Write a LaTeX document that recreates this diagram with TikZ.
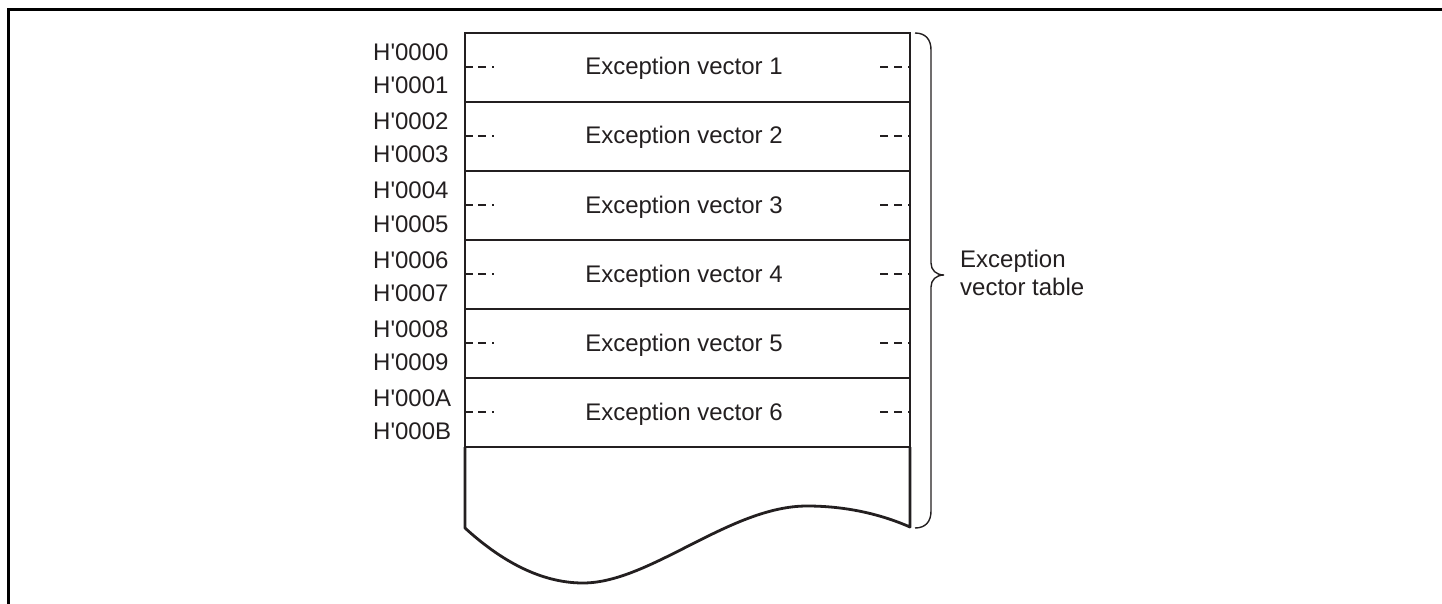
\documentclass[tikz,border=0pt]{standalone}
\usepackage{fontspec}
\setmainfont{Liberation Sans}[Ligatures=TeXOff]
\definecolor{ink}{RGB}{35,31,32}
\begin{document}
\begin{tikzpicture}[x=1pt,y=-1pt,
  frame/.style={line width=3pt,black},
  rowbox/.style={draw=ink,line width=2.8pt,minimum width=445pt,minimum height=69pt,inner sep=0pt,outer sep=0pt},
  outline/.style={draw=ink,line width=2.8pt},
  lbl/.style={text=ink,font=\fontsize{24}{28}\selectfont,inner sep=0pt},
  dsh/.style={draw=ink,line width=1.3pt},
  bracestyle/.style={draw=ink,line width=1.4pt}
]
\useasboundingbox (0,0) rectangle (1442,604);
\draw[frame] (1442,9.5) -- (8.5,9.5) -- (8.5,604);

\foreach \i/\a/\b in {1/0000/0001,2/0002/0003,3/0004/0005,4/0006/0007,5/0008/0009,6/000A/000B}{
  \pgfmathsetmacro{\t}{33+69*(\i-1)}
  \node[rowbox] (r\i) at (687.5,\t+34.5) {};
  \node[lbl,anchor=base] (v\i) at (684,\t+42) {Exception vector \i};
  \node[lbl,anchor=base west] (ha\i) at (373,\t+28) {H'\a};
  \node[lbl,anchor=base west] (hb\i) at (373,\t+61) {H'\b};
  \draw[dsh] (r\i.west) ++(0,-0.5) -- ++(8,0) ++(5,0) -- ++(8,0) ++(6,0) -- ++(1.5,0);
  \draw[dsh] (r\i.east) ++(0,-0.5) -- ++(-2,0) ++(-6,0) -- ++(-8,0) ++(-6,0) -- ++(-8,0);
}
\draw[outline,line join=round] (r6.south west) -- (465,528)
  .. controls (500,560) and (540,583) .. (583,583)
  .. controls (650,583) and (730,506) .. (807,506)
  .. controls (850,506) and (885,516) .. (910,527) -- (r6.south east);

\coordinate (bt) at (915,33);
\coordinate (bb) at (915,528);
\draw[bracestyle] (bt) .. controls (926,33) and (931,40) .. (931,50) -- (931,263)
  .. controls (931,270) and (936,275) .. (944,275)
  .. controls (936,275) and (931,280) .. (931,287) -- (931,511)
  .. controls (931,521) and (926,528) .. (bb);

\node[lbl,anchor=base west] (tab1) at (960,267) {Exception};
\node[lbl,anchor=base west] (tab2) at (960,295) {vector table};
\end{tikzpicture}
\end{document}
